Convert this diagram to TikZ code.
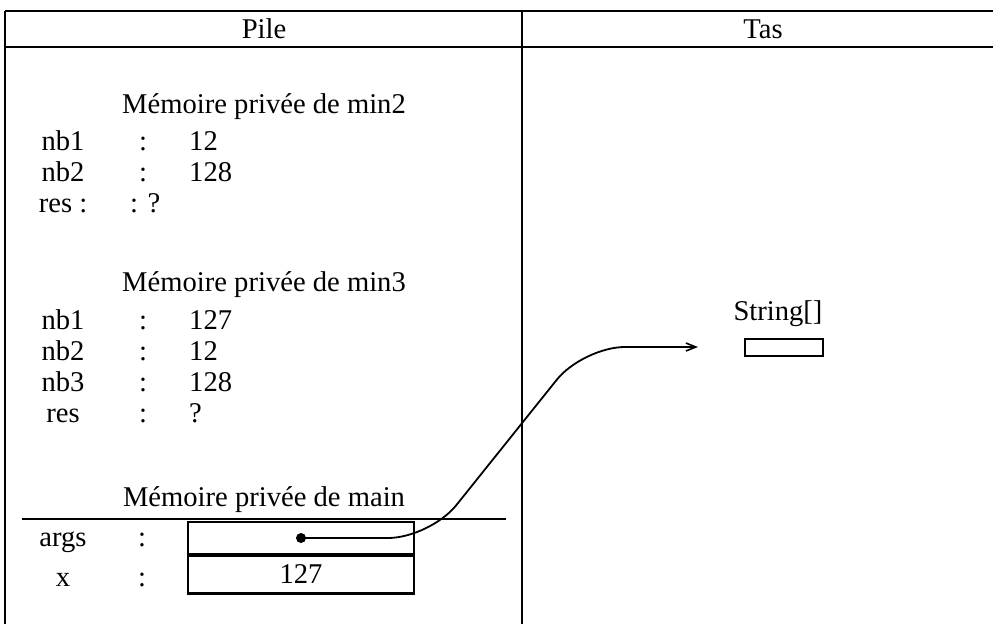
\documentclass[tikz,border=0pt]{standalone}
\usepackage{fontspec}
\setmainfont{Liberation Serif}
\usetikzlibrary{arrows.meta}
\begin{document}
\begin{tikzpicture}[x=1pt,y=-1pt,
  frame/.style={line width=2.6pt},
  txt/.style={inner sep=0pt,anchor=base,font=\fontsize{28.6}{34}\selectfont},
  lefttxt/.style={txt,anchor=base west},
  cell/.style={draw,line width=2.2pt,minimum width=226pt,minimum height=34pt,inner sep=0pt,font=\fontsize{28.6}{34}\selectfont},
  ref/.style={line width=1.8pt,rounded corners=42pt,-{Straight Barb[length=10pt,width=8pt,line width=1.6pt]}}]
\useasboundingbox (0,0) rectangle (993,624);

% table frame: header row and the two columns
\draw[frame] (5,11) -- (993,11);
\draw[frame] (5,47) -- (993,47);
\draw[frame] (5,11) -- (5,624);
\draw[frame] (522,11) -- (522,624);
\node[txt] (pile) at (264,38) {Pile};
\node[txt] (tas) at (763,38) {Tas};

% stack frame of min2
\node[txt] (h2) at (264,113) {Mémoire privée de min2};
\node[txt] (a1) at (63,150) {nb1};  \node[txt] (a1c) at (143,150) {:}; \node[lefttxt] (a1v) at (189,150) {12};
\node[txt] (a2) at (63,181) {nb2};  \node[txt] (a2c) at (143,181) {:}; \node[lefttxt] (a2v) at (189,181) {128};
\node[txt] (a3) at (63,212) {res :}; \node[lefttxt] (a3v) at (130,212) {: ?};

% stack frame of min3
\node[txt] (h3) at (264,291) {Mémoire privée de min3};
\node[txt] (b1) at (63,329) {nb1}; \node[txt] (b1c) at (143,329) {:}; \node[lefttxt] (b1v) at (189,329) {127};
\node[txt] (b2) at (63,360) {nb2}; \node[txt] (b2c) at (143,360) {:}; \node[lefttxt] (b2v) at (189,360) {12};
\node[txt] (b3) at (63,391) {nb3}; \node[txt] (b3c) at (143,391) {:}; \node[lefttxt] (b3v) at (189,391) {128};
\node[txt] (b4) at (63,422) {res}; \node[txt] (b4c) at (143,422) {:}; \node[lefttxt] (b4v) at (189,422) {?};

% stack frame of main
\node[txt] (hm) at (264,506) {Mémoire privée de main};
\draw[line width=1.8pt] (22,519) -- (506,519);
\node[cell] (args) at (301,539) {};
\node[cell,minimum height=39pt] (xbox) at (301,574) {127};
\node[txt] (c1) at (63,546) {args}; \node[txt] (c1c) at (142,546) {:};
\node[txt] (c2) at (63,586) {x};    \node[txt] (c2c) at (142,586) {:};
\node[circle,fill,inner sep=0pt,minimum size=10pt] (dot) at (301,538) {};

% heap
\node[txt] (st) at (778,320) {String[]};
\node[draw,line width=2.2pt,minimum width=78pt,minimum height=17pt,inner sep=0pt] (arr) at (784,347.5) {};
\coordinate (tip) at (698,347);

% reference from args to the array
\draw[ref] (dot.center) -- (430,538) -- (583,347) -- (tip);
\end{tikzpicture}
\end{document}
